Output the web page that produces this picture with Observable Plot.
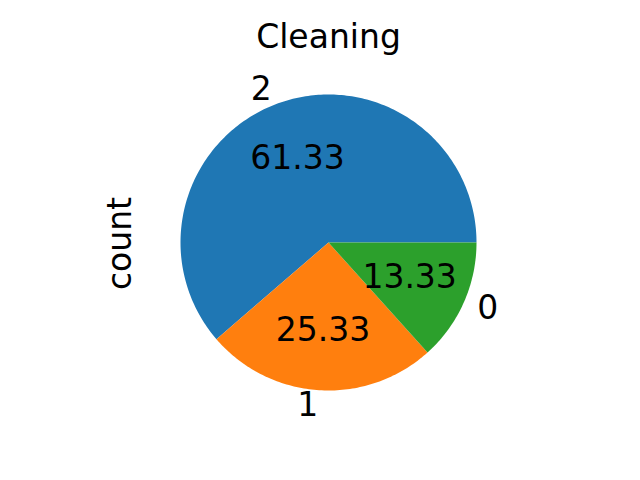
<!DOCTYPE html>
<html>
<head>
<meta charset="utf-8">
<script src="https://cdn.jsdelivr.net/npm/d3@7"></script>
<script src="https://cdn.jsdelivr.net/npm/@observablehq/plot@0.6"></script>
<style>
  html, body { margin: 0; padding: 0; background: #fff; }
</style>
</head>
<body>
<div id="chart"></div>
<script>
const categories = ["2", "1", "0"];
const counts = [92, 38, 20];
const colors = ["#1f77b4", "#ff7f0e", "#2ca02c"];
const title = "Cleaning";
const ylabel = "count";

const total = d3.sum(counts);
// matplotlib pie: start at 0°, counterclockwise
let start = 0;
const wedges = [];
const labels = [];
const pcts = [];
categories.forEach((c, i) => {
  const frac = counts[i] / total;
  const a0 = start, a1 = start + frac * 2 * Math.PI;
  const n = Math.max(2, Math.ceil((a1 - a0) / (Math.PI / 180)));
  wedges.push({cat: c, x: 0, y: 0});
  for (let k = 0; k <= n; k++) {
    const a = a0 + (a1 - a0) * k / n;
    wedges.push({cat: c, x: Math.cos(a), y: Math.sin(a)});
  }
  const mid = (a0 + a1) / 2;
  const lx = 1.1 * Math.cos(mid), ly = 1.1 * Math.sin(mid);
  labels.push({cat: c, x: lx, y: ly, anchor: lx < 0 ? "end" : "start"});
  pcts.push({text: (frac * 100).toFixed(2), x: 0.6 * Math.cos(mid), y: 0.6 * Math.sin(mid)});
  start = a1;
});

const W = 640, H = 480, cx = 328, cy = 242, R = 148;
const font = "DejaVu Sans";
const fs = 33;

const chart = Plot.plot({
  width: W,
  height: H,
  margin: 0,
  x: {domain: [-cx / R, (W - cx) / R], axis: null},
  y: {domain: [-(H - cy) / R, cy / R], axis: null},
  color: {domain: categories, range: colors},
  style: {fontFamily: font, background: "#fff"},
  marks: [
    Plot.line(wedges, {x: "x", y: "y", z: "cat", fill: "cat", stroke: null, curve: "linear-closed"}),
    Plot.text(labels.filter(d => d.anchor === "end"), {x: "x", y: "y", text: "cat", textAnchor: "end", fontSize: fs, fill: "black", lineAnchor: "middle"}),
    Plot.text(labels.filter(d => d.anchor === "start"), {x: "x", y: "y", text: "cat", textAnchor: "start", fontSize: fs, fill: "black", lineAnchor: "middle"}),
    Plot.text(pcts, {x: "x", y: "y", text: "text", textAnchor: "middle", fontSize: fs, fill: "black", lineAnchor: "middle", dy: -1}),
    Plot.text([title], {frameAnchor: "top", text: d => d, fontSize: fs, fill: "black", textAnchor: "middle", lineAnchor: "middle", dx: 8, dy: 37}),
    Plot.text([ylabel], {frameAnchor: "left", text: d => d, fontSize: fs, fill: "black", textAnchor: "middle", lineAnchor: "middle", rotate: -90, dx: 120, dy: 3})
  ]
});
document.getElementById("chart").appendChild(chart);
</script>
</body>
</html>
